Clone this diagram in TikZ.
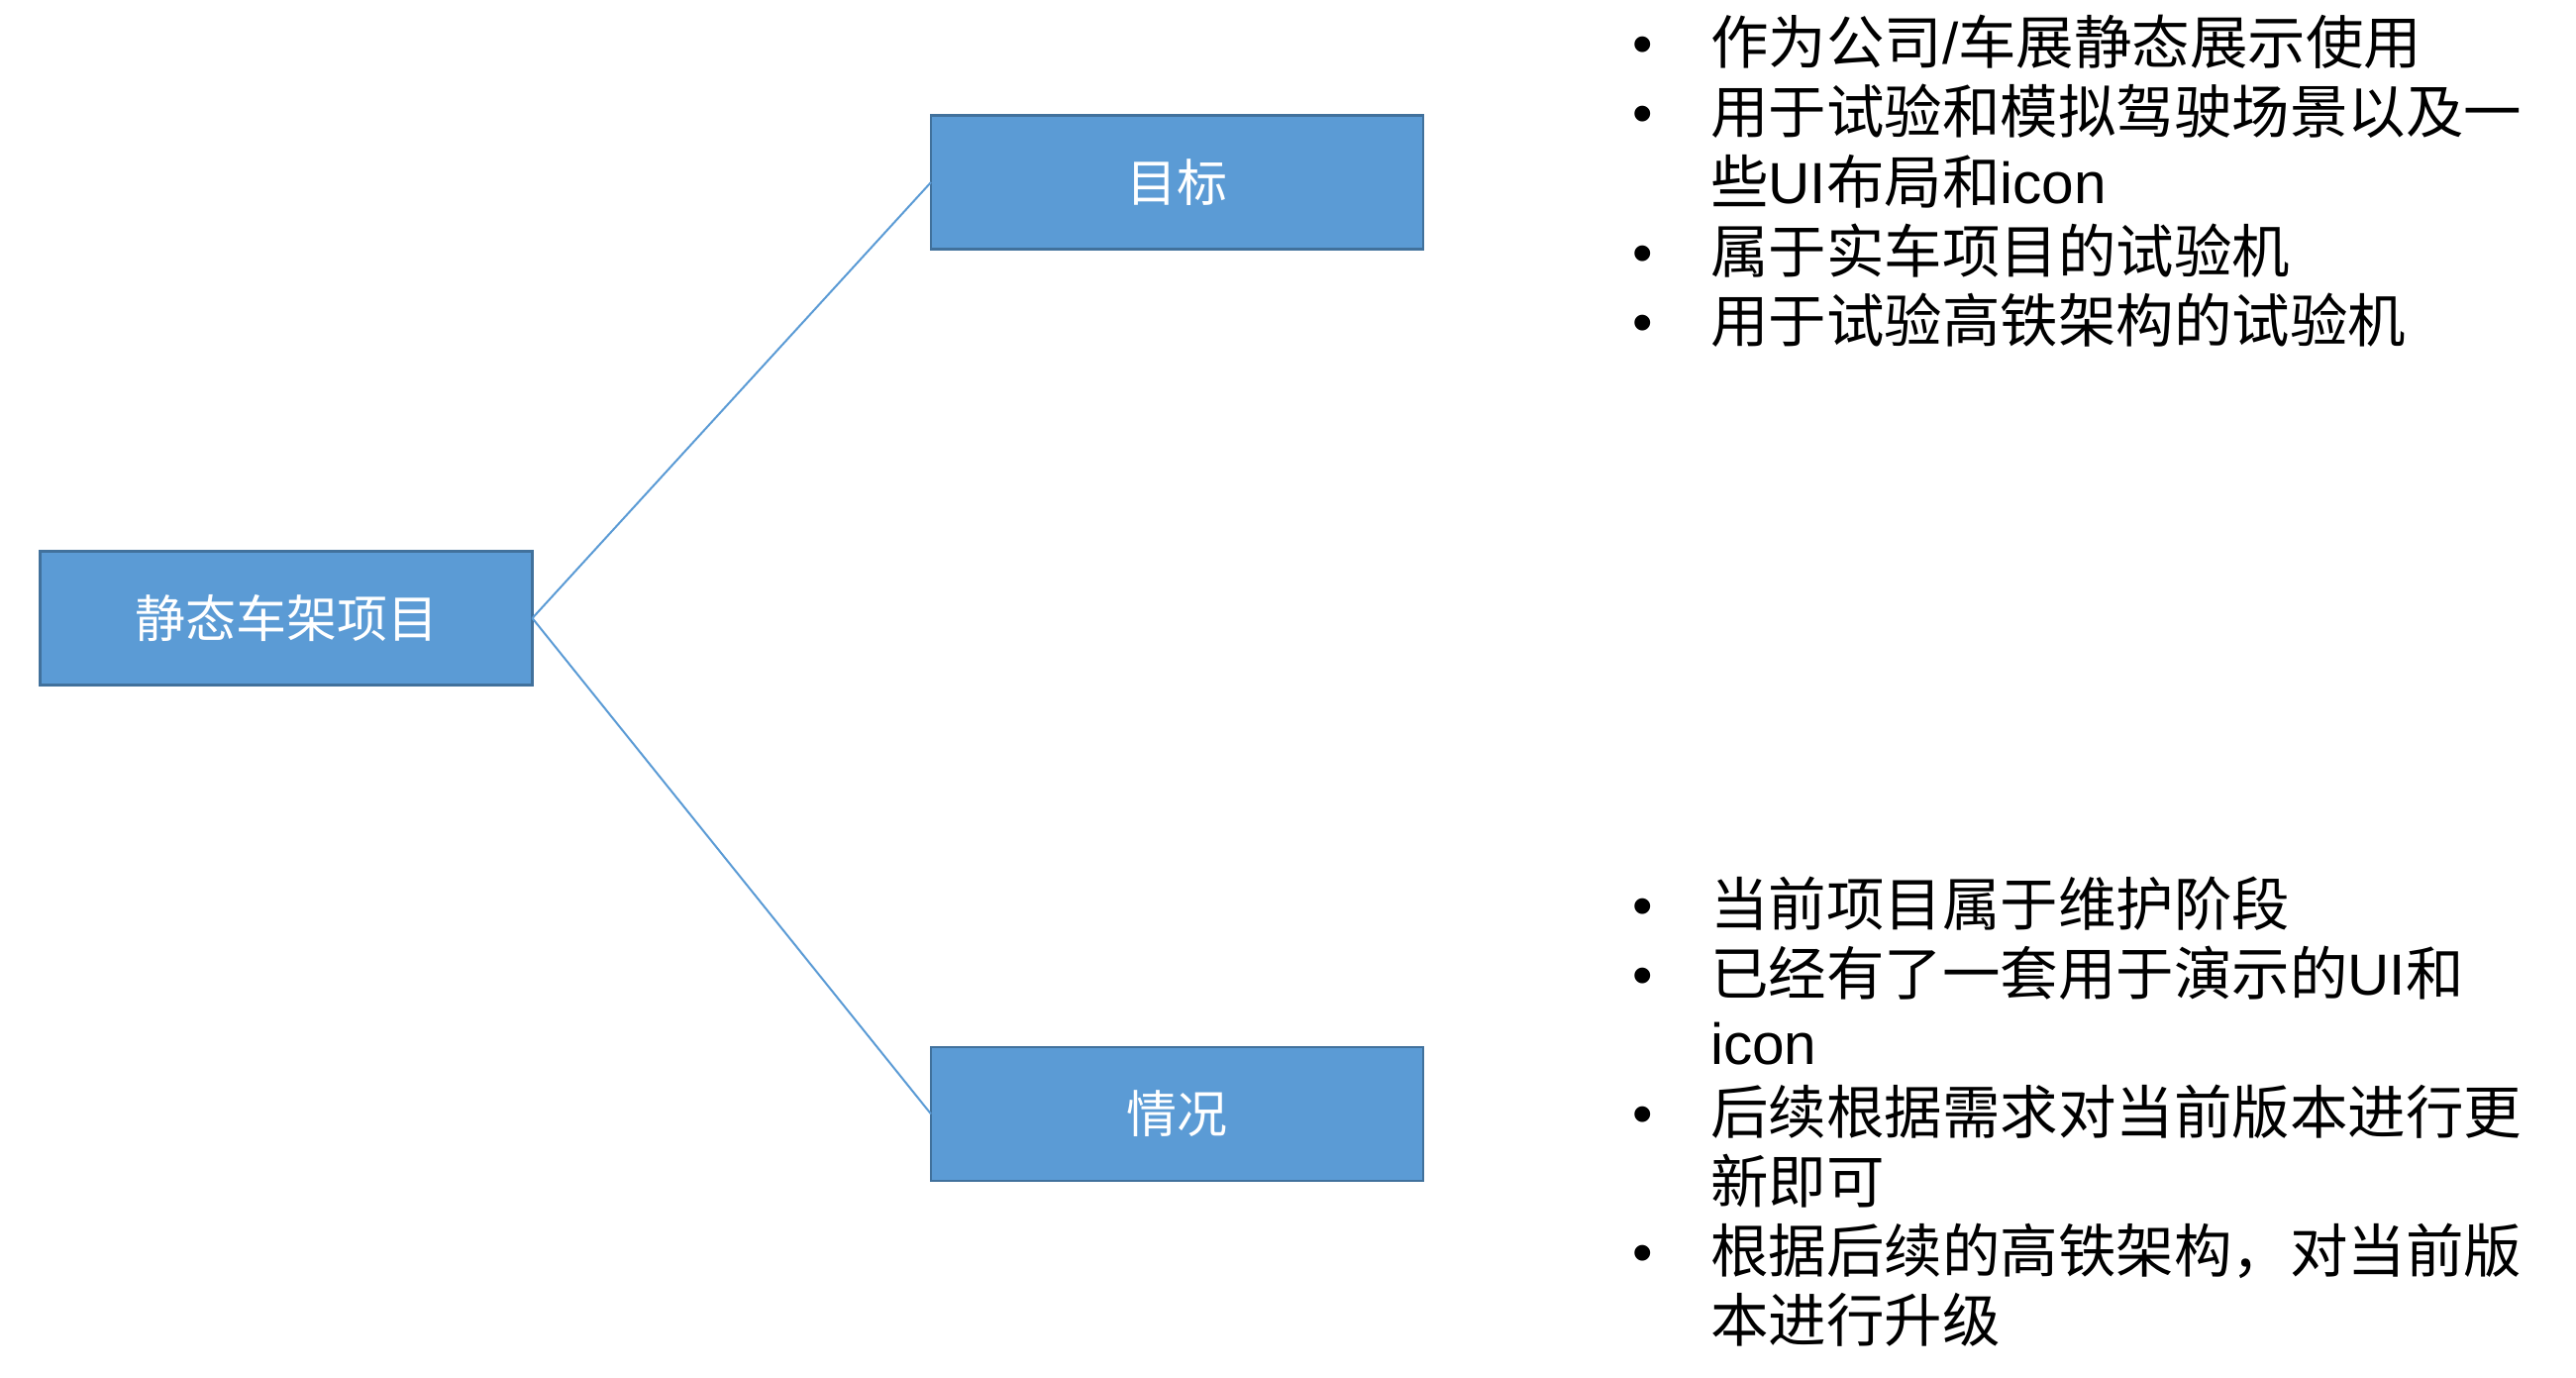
\documentclass[tikz,border=0pt]{standalone}
\usepackage{fontspec}
\setmainfont{Liberation Sans}
\newfontfamily\cjk{Noto Sans CJK SC}
\definecolor{boxfill}{HTML}{5B9BD5}
\definecolor{boxline}{HTML}{41719C}
\definecolor{connblue}{HTML}{5B9BD5}
\begin{document}
\begin{tikzpicture}[x=1pt,y=-1pt,
  box/.style={draw=boxline,line width=2.7pt,fill=boxfill,minimum width=497pt,minimum height=135pt,inner sep=0pt,outer sep=0pt,text=white,font=\cjk\fontsize{51}{60}\selectfont},
  link/.style={draw=connblue,line width=2pt},
  txt/.style={anchor=base west,inner sep=0pt,outer sep=0pt,font=\fontsize{58.5}{70}\selectfont},
  bul/.style={anchor=base,inner sep=0pt,outer sep=0pt,font=\fontsize{58.5}{70}\selectfont}]
\useasboundingbox (0,0) rectangle (2601,1391);

% boxes
\node[box] (root) at (289,624) {静态车架项目};
\node[box] (goal) at (1188.5,184) {目标};
\node[box] (state) at (1188.5,1124.5) {情况};

% connectors
\draw[link] (root.east) -- (goal.west);
\draw[link] (root.east) -- (state.west);

% goal bullets
\node[bul] (gb1) at (1659,65) {•};
\node[bul] (gb2) at (1659,135) {•};
\node[bul] (gb3) at (1659,275) {•};
\node[bul] (gb4) at (1659,345) {•};
\node[txt] (g1) at (1727,65) {{\cjk 作为公司}/{\cjk 车展静态展示使用}};
\node[txt] (g2) at (1727,135) {{\cjk 用于试验和模拟驾驶场景以及一}};
\node[txt] (g2b) at (1727,205) {{\cjk 些}UI{\cjk 布局和}icon};
\node[txt] (g3) at (1727,275) {{\cjk 属于实车项目的试验机}};
\node[txt] (g4) at (1727,345) {{\cjk 用于试验高铁架构的试验机}};

% state bullets
\node[bul] (sb1) at (1659,934) {•};
\node[bul] (sb2) at (1659,1004) {•};
\node[bul] (sb3) at (1659,1144) {•};
\node[bul] (sb4) at (1659,1284) {•};
\node[txt] (s1) at (1727,934) {{\cjk 当前项目属于维护阶段}};
\node[txt] (s2) at (1727,1004) {{\cjk 已经有了一套用于演示的}UI{\cjk 和}};
\node[txt] (s2b) at (1727,1074) {icon};
\node[txt] (s3) at (1727,1144) {{\cjk 后续根据需求对当前版本进行更}};
\node[txt] (s3b) at (1727,1214) {{\cjk 新即可}};
\node[txt] (s4) at (1727,1284) {{\cjk 根据后续的高铁架构，对当前版}};
\node[txt] (s4b) at (1727,1354) {{\cjk 本进行升级}};
\end{tikzpicture}
\end{document}
